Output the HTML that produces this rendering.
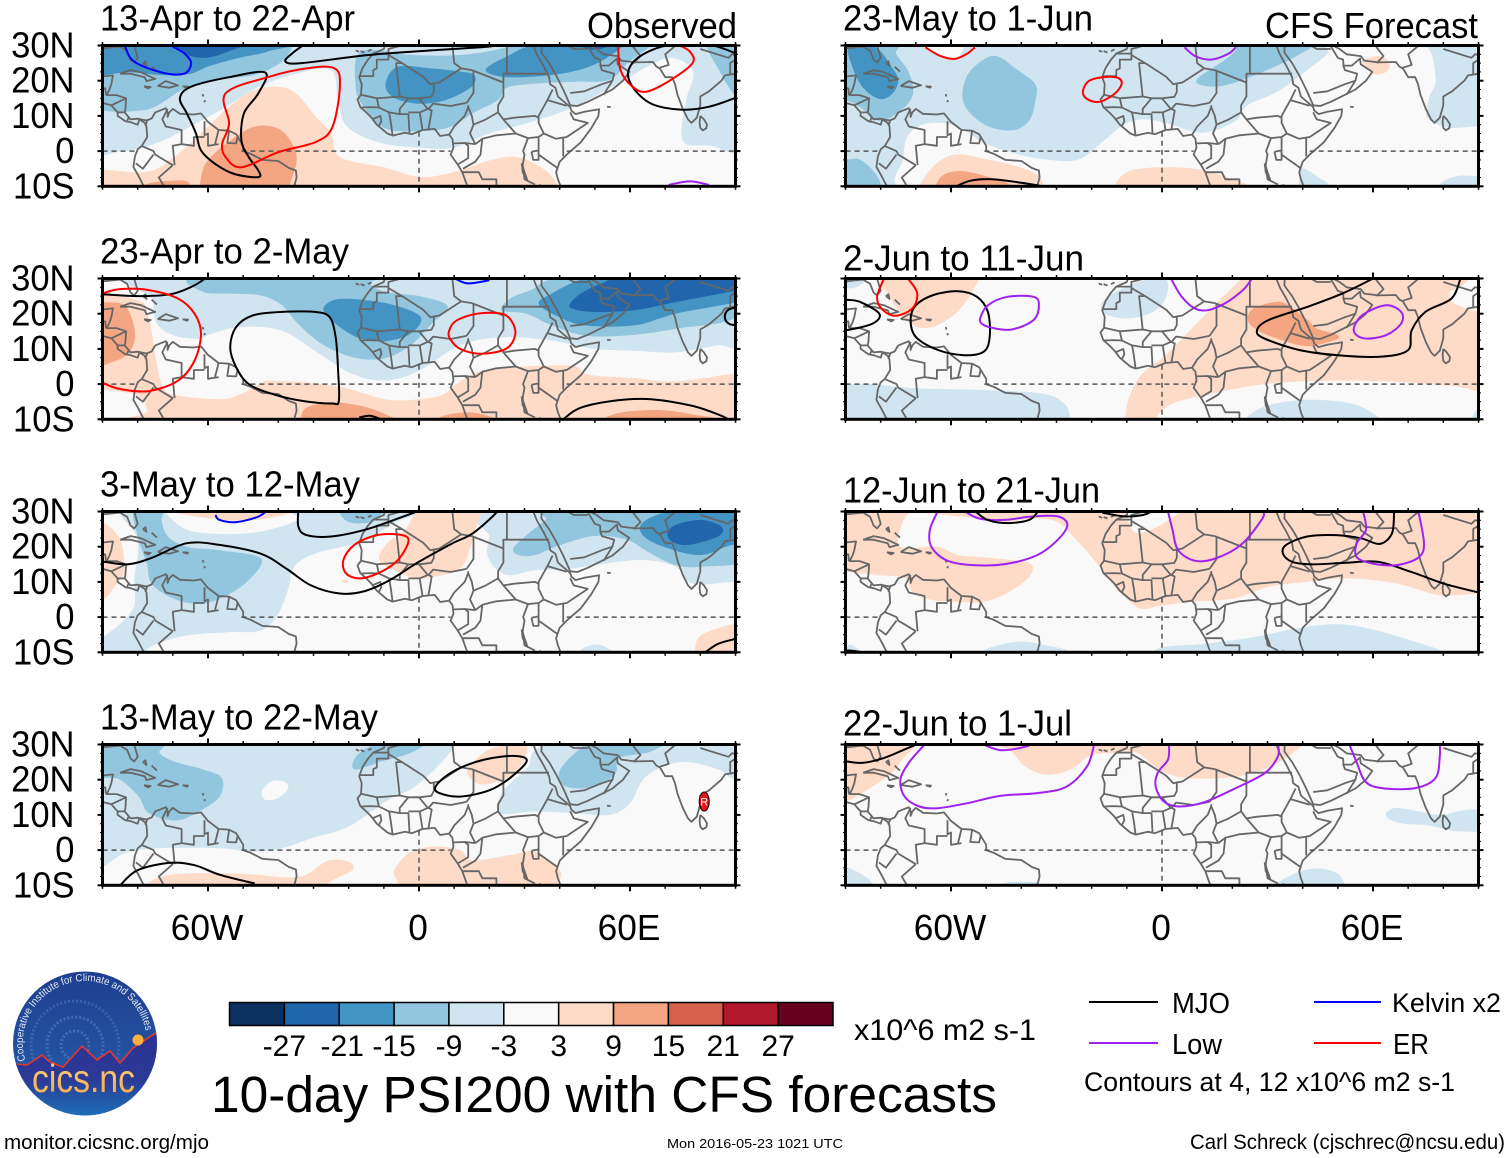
<!DOCTYPE html>
<html lang="en">
<head>
<meta charset="utf-8">
<title>10-day PSI200 with CFS forecasts</title>
<style>
html,body{margin:0;padding:0;background:#fff;width:1510px;height:1158px;overflow:hidden}
svg{display:block}
text{font-family:"Liberation Sans",sans-serif;fill:#000}
</style>
</head>
<body>
<svg id="chart" width="1510" height="1158" viewBox="0 0 1510 1158" xmlns="http://www.w3.org/2000/svg">
  <defs>
    <linearGradient id="logo-sky" x1="0" y1="0" x2="0" y2="1">
      <stop offset="0" stop-color="#1f3f8f"/><stop offset="0.55" stop-color="#23509f"/><stop offset="1" stop-color="#1b78bd"/>
    </linearGradient>
    <linearGradient id="logo-land" x1="0" y1="0" x2="0" y2="1">
      <stop offset="0" stop-color="#2e3192"/><stop offset="0.55" stop-color="#2b3a96"/><stop offset="1" stop-color="#1b75bb"/>
    </linearGradient>
    <linearGradient id="logo-word" x1="0" y1="0" x2="0" y2="1">
      <stop offset="0" stop-color="#fbd27a"/><stop offset="1" stop-color="#f5a64a"/>
    </linearGradient>
    <clipPath id="logo-clip"><circle cx="85" cy="1043.5" r="72"/></clipPath>
  </defs>
  <g id="panels"></g>

  <g id="colorbar"></g>
  <text x="854" y="1040" font-size="30" textLength="182" lengthAdjust="spacingAndGlyphs">x10^6 m2 s-1</text>
  <text x="211" y="1112" font-size="51" textLength="786" lengthAdjust="spacingAndGlyphs">10-day PSI200 with CFS forecasts</text>

  <g>
    <line x1="1089" y1="1002" x2="1158" y2="1002" stroke="#000" stroke-width="2"/>
    <text x="1172" y="1013" font-size="29" textLength="58" lengthAdjust="spacingAndGlyphs">MJO</text>
    <line x1="1314" y1="1002" x2="1381" y2="1002" stroke="#0000ff" stroke-width="2"/>
    <text x="1392" y="1012" font-size="27" textLength="109" lengthAdjust="spacingAndGlyphs">Kelvin x2</text>
    <line x1="1089" y1="1043" x2="1158" y2="1043" stroke="#a020f0" stroke-width="2"/>
    <text x="1172" y="1054" font-size="29" textLength="50" lengthAdjust="spacingAndGlyphs">Low</text>
    <line x1="1314" y1="1043" x2="1381" y2="1043" stroke="#ff0000" stroke-width="2"/>
    <text x="1393" y="1054" font-size="29" textLength="36" lengthAdjust="spacingAndGlyphs">ER</text>
    <text x="1084" y="1091" font-size="27" textLength="371" lengthAdjust="spacingAndGlyphs">Contours at 4, 12 x10^6 m2 s-1</text>
  </g>

  <g>
    <circle cx="85" cy="1043.5" r="72" fill="url(#logo-sky)"/>
    <g clip-path="url(#logo-clip)">
      <circle cx="75" cy="1045" r="14" fill="none" stroke="#5f86c8" stroke-width="3" stroke-dasharray="2 2" opacity="0.55"/>
      <circle cx="75" cy="1045" r="28" fill="none" stroke="#5f86c8" stroke-width="3" stroke-dasharray="2 2" opacity="0.5"/>
      <circle cx="75" cy="1045" r="44" fill="none" stroke="#5f86c8" stroke-width="3" stroke-dasharray="2 2" opacity="0.4"/>
      <path d="M10,1064 L27,1065 L42,1055 L50,1062 L63,1067 L82,1046 L97,1060 L110,1051 L120,1063 L133,1048 L160,1030 L160,1120 L10,1120 Z" fill="url(#logo-land)"/>
      <path d="M17,1064 L27,1065 L42,1055 L50,1062 L63,1067 L82,1046 L97,1060 L110,1051 L120,1063 L133,1048 L157,1032" fill="none" stroke="#e8352e" stroke-width="1.6"/>
      <circle cx="138" cy="1040" r="5.5" fill="#fbb040"/>
    </g>
    <path id="logo-arc" d="M25.4,1060.5 A62,62 0 1 1 146.1,1033.2" fill="none"/>
    <text font-size="10.5" style="fill:#dfe8f6"><textPath href="#logo-arc" textLength="200" lengthAdjust="spacingAndGlyphs">Cooperative Institute for Climate and Satellites</textPath></text>
    <text x="32" y="1092" font-size="39" textLength="103" lengthAdjust="spacingAndGlyphs" style="fill:url(#logo-word)">cics.nc</text>
  </g>

  <text x="4" y="1149" font-size="20" textLength="205" lengthAdjust="spacingAndGlyphs">monitor.cicsnc.org/mjo</text>
  <text x="667" y="1148" font-size="13" textLength="176" lengthAdjust="spacingAndGlyphs">Mon 2016-05-23 1021 UTC</text>
  <text x="1190" y="1149" font-size="21" textLength="315" lengthAdjust="spacingAndGlyphs">Carl Schreck (cjschrec@ncsu.edu)</text>
</svg>

<script>
/* ---------- axis data ---------- */
const lonTicks = [-60, 0, 60];
const lonTickLabels = ['60W', '0', '60E'];
const latTicks = [30, 20, 10, 0, -10];
const latTickLabels = ['30N', '20N', '10N', '0', '10S'];

/* ---------- colour scale ---------- */
const colorLevels = [-30, -24, -18, -12, -6, 0, 6, 12, 18, 24, 30];
const colorValues = ['#0a3060', '#2166ac', '#4393c3', '#92c5de', '#d1e5f0', '#f9f9f9', '#fddbc7', '#f4a582', '#d6604d', '#b2182b', '#67001f'];
const colorbarLabels = ['-27', '-21', '-15', '-9', '-3', '3', '9', '15', '21', '27'];
const seriesColors = { MJO: '#000000', Kelvin: '#0000ff', Low: '#a020f0', ER: '#ff0000' };

/* ---------- panel titles ---------- */
const panelTitles = ['13-Apr to 22-Apr','23-Apr to 2-May','3-May to 12-May','13-May to 22-May','23-May to 1-Jun','2-Jun to 11-Jun','12-Jun to 21-Jun','22-Jun to 1-Jul'];
const panelTitleWidths = [255,249,260,278,250,241,257,229];
const panelTitleOffsets = [15,15,15,15,15,8,9,9];

/* ---------- geography: lon,lat polylines ---------- */
const coastlines = [
 [-90,21.2,-87,21.5,-87.5,19,-88,17.5,-88.8,15.9,-86,15.9,-83.3,15,-83.5,12,-83.7,11,-82,9,-80,9.2,-77.5,8.7,-76,9.3,-75,11,-72,12.2,-71.5,11,-71.5,9.7,-71,11,-70,12,-68,10.6,-64,10.4,-62,10.7,-61,9.5,-60,8.3,-57,6,-54,5.8,-52,4.8,-50,1.5,-50,0,-48,-0.7,-44.5,-2.5,-40,-2.8,-37,-4.8,-35,-5.5,-34.8,-7.5,-35.5,-10],
 [-90,13.7,-87.5,13,-85.7,11,-85.7,10,-83.5,8.5,-82,8.2,-80,7.5,-79.5,9,-78,8,-77.5,7,-77.3,4,-78.8,1.5,-80,0.5,-80.8,-1.5,-81.2,-4.5,-79.8,-7,-78.5,-9.5,-78,-10],
 [-90,29.2,-85,29.7,-83,28.5,-82,26,-81,25.2,-80,26.5,-81,30],
 [-85,22,-82,23,-79,22.4,-75,20.5,-77.5,19.9,-78,21,-82,22,-85,22],
 [-74.3,18.5,-72,19.9,-68.5,18.7,-71,18,-74.3,18.5],
 [-78.2,18.4,-76.3,18.2,-77,17.8,-78.2,18.4],
 [-67.2,18.4,-65.7,18.3,-66,18,-67.2,18.4],
 [-78.5,25,-77.5,24.2,-77.8,25.5,-78.5,25],
 [-76,24,-75,23,-74.5,22.6],
 [-61.5,16.2,-61.3,15.5],
 [-60.9,14.5,-61,13.9],
 [-9.7,30,-10,29,-13,27.7,-14.5,26,-16,23.7,-17,21,-16.3,19,-16.5,16,-17.5,14.7,-16.7,12.5,-15,11,-13.5,9.5,-12,7.5,-9,5,-7.5,4.4,-4,5.2,-2,4.8,1,6,4.5,6.3,6,4.3,8.5,4.7,9.5,3.5,9.8,1,9,-1,11,-3.8,12.3,-6,13.4,-9,13.8,-10],
 [32.5,30,33.5,27.5,35.5,24,37,21,37.3,19,38.8,18,39.5,15.5,43,12.5,43.3,11.5,44.5,10.5,47,11.2,51.2,11.9,51,10,49,6.5,46,2.5,42,-1,40,-3,39,-6,39.5,-8,40.3,-10],
 [34.9,30,34.8,28,37,25,39,21.5,41,17.5,43,13,45,12.8,48,14,52,16,55,17.5,58,20,59.8,22.5,56.5,24.7,56.3,26.3,54,24.3,51.6,24.3,51.5,26,50,26.5,48.2,29.5,47.8,30],
 [48.5,30,50.5,29,52.5,27.5,56.5,27,57.5,25.7,61.5,25.2,66.5,25.3,67.5,24,68.5,23.5,70,21,72,21,72.8,19,73.5,16,75,12,76.5,9,77.5,8,79,9.5,80,13,80,15.5,82.5,17,86,20,87,21.5,90,22],
 [80,10,81,9,81.9,7.6,81.7,6.5,80.7,5.9,80,6.6,79.8,8.2,80,10],
 [53.5,12.6,54.5,12.5],
 [-18,28.6,-17,28.2],[-16.6,28.4,-15.5,28],[-14.5,28.4,-13.5,28.9],
 [32,-0.2,34,0.2,34,-2.5,32.5,-2.5,32,-0.2],
 [29.2,-3.5,30,-6,30.8,-8.2,29.5,-6,29.2,-3.5],
 [34.3,-9.5,34.8,-10]
];
const borders = [
 [-13,27.7,-8.7,27.7,-8.7,29,-5,30],[-8.7,27.7,-8.7,26,-12,26,-12,23.5,-13,23,-13,21.3,-17,21.3],
 [-8.7,27.3,-4.8,25,1.2,21.1,3.2,19,4.2,19.2,4.2,16.8,3.5,15.4,0,15,-3,15,-5.5,15.5,-12,15,-16.5,16],
 [-4.8,25,-6.5,25,-5.5,15.5],[-12,15,-11.4,12.4,-13.7,12.5,-16.7,12.4],
 [-11.4,12.4,-8.5,11,-8,8,-7.5,4.4],[-13.3,9,-11,10,-10.7,8.5,-11.5,7],[-8.5,11,-5.5,10.5,-3,10.5,-2.7,5],
 [-5.5,10.5,-5.5,12,-3,15],[0,15,2.5,12,0.2,11,-3,11],[0.2,11,1,6],[2.7,6.3,3.6,11.5,2.7,12],
 [2.7,12,4,13.5,9,12.8,13.5,13.7],[8.6,4.7,10,7,13,10,14,12.5,14,13],
 [15.5,23,15.5,21,15.5,16.5,13.5,13.7],[4.2,19.2,5.8,19.5,12,23.5,15,23],[12,23.5,10,25,9.5,30],[15,23,24,19.5],
 [25,30,25,22,37,22],[24,19.5,24,22,25,22],[24,19.5,24,15.5,22.5,13,22.5,11,24,9],
 [14,12.5,15,10,15.5,7.5,19,9,22.5,11],[15.5,7.5,14.5,5,16,2],[24,9,27,9.5,33,10,34,9.5],
 [24,9,27.5,5,31,3.7,34,4,35.5,5],[36.5,14.5,34,10,34,8,35.5,5,39,3.5,42,4,48,8,44,9,43,11],
 [36.5,14.5,38,17.5],[36.5,14.5,42,12.9],[41,4,41,-1.5],[34,4,34,-1,39.2,-4.7],
 [31,3.7,29.6,0,30,-1,29.5,-4,30,-8,33,-9.5],[16,2,18,3.5,17.5,-1,16,-3,12.5,-5],
 [9.8,2.2,13,2.3,14,1.5,14,-2,11,-3.8],[12.3,-6,17,-6,18,-8,22,-8,22,-10],[16,2,13,2.3],[18,3.5,22,4.5,27.5,5],
 [34.9,29.5,34.3,31],[39,32,44,29,46.5,29,48,29],[43,16.5,47,17,52,19,55,20,52.5,16],[55,20,55.5,22,52,23,51.5,24.5],
 [61,25,63,27,61,29.5,60.8,30],[68.5,23.7,71,24.5,70,27.5,73,30],[80,29,88,26.5,89,27.5,92,27],[88.5,22,88.5,25,90,26],[48.5,30,47.7,31],
 [-90,17.8,-89.2,17.8,-89,15.9],[-87.5,13,-83.3,15],[-85.7,11,-83.7,11],[-83,8.5,-82.6,9.5],[-77.3,8.7,-77.8,7.2],
 [-71.5,12,-73,9,-72,7,-67.5,6,-67.5,2,-70,1.5,-69.5,-4],[-79,1.5,-75.5,0,-75,-1,-70,-4],[-80.5,-3.5,-78.5,-5,-75.5,-1],
 [-70,-4,-74,-7.5,-72.5,-10],[-67.5,2,-64,1.5,-64,4,-61,4],[-61,8.5,-61,4.5,-60,5,-60,1.5,-57,2],[-57,6,-58,2],[-54,5.8,-54.5,2.3,-52,2.2,-51.5,4.3]
];
const equatorOceanSpans = [[-90,-80],[-50.5,9],[42,90]];
const primeMeridianSpan = [5.5, -10];

/* ---------- shaded anomaly regions: [level, lon,lat,...] ---------- */
const fills1 = [
 [-3,[-95,36,-95,2,-84,0,-74,2.5,-65,7,-55,12.5,-46,18,-35,22,-25,23,-23,14.5,-20.5,7,-11.5,2.5,0,1,10,1,20,5,31,8,44,12.5,58,20,65,24,72,26.5,78,22.5,76,14.5,75,3,82.5,1.6,95,1.6,95,36]],
 [-9,[-95,14,-78.4,11.6,-67.5,17.3,-59.3,20.2,-47,21.6,-39,25.4,-36,29.7,-36,33,-95,33]],
 [-9,[-16.4,28.3,-18,18.3,-15.7,12.6,-9.5,6.4,0.7,5.7,9,6.9,15.7,11,22.5,14.5,25,18,33.4,19.2,44.3,19.7,54,20.2,59.3,25,66,30,66,31.6,30.7,32,24,29.2,11.6,27.3,-2,27.3]],
 [-9,[82.5,31,85.3,23,90.7,15,96,15,96,31]],
 [-15,[-95,22,-82.5,22.4,-73,21.6,-65,22,-59.5,24.2,-51,26.5,-43,28.3,-39,31,-95,33]],
 [-15,[-9.5,19.2,-6,24,3.4,23.5,11.6,22.6,15.7,21.6,15,18.3,7.5,14.5,-0.7,13.5,-7.5,15.4]],
 [-15,[19,23,25,26.9,35,30.7,56.6,30.7,54,26.9,47,23.5,37.5,21.6,25,21]],
 [-21,[-70,31,-66.7,27.6,-60.5,26.5,-53.7,28.5,-49.6,31]],
 [-21,[44.3,31,49.8,28.8,56.6,31]],
 [3,[-96,-5.5,-78.4,-6,-71,-2.7,-62,5,-54,12.6,-47,17.3,-40,18.3,-35,16.4,-29.3,9.7,-25,5,-22.5,-1.7,-10,-4.6,0.7,-7.4,11.6,-5.5,19.8,-2.7,28,-1.7,36,-5.5,39.6,-10.3,39.6,-14,-96,-14]],
 [9,[-62.3,-10,-60.7,-3.6,-55,2,-47,6.9,-40,6.4,-36,2,-34.8,-2.7,-36.8,-10,-37,-14,-62,-14]],
 [9,[-77.8,-9.6,-73,-8.6,-66,-8.6,-66,-12,-78,-12]]
];
const contours1 = [
 ['MJO',0,[-32,30.7,-36,27.8,-38,25.4,-33.4,25,-14.3,27.3,3.4,28.6,19.8,29.7,24,30.5]],
 ['MJO',1,[-43.7,22.3,-54,21,-64.8,18.3,-68,15,-66,10.7,-63.4,5,-62,0.2,-58,-3.6,-52.5,-6.5,-45.7,-7.4,-45.7,-5.5,-48.4,-1.7,-50.5,3,-49.8,10.7,-45.7,16.4]],
 ['ER',1,[-55,16.4,-43,21,-32,23.5,-24,23.5,-22.5,18.3,-24.6,6.9,-29.3,2.6,-40,-0.3,-50.5,-4.6,-55,-1.7,-56,2,-54,7.8]],
 ['MJO',0,[90.7,15.4,82.5,12.6,74.4,11.8,66,13.5,60.7,18.3,59.6,23,63.4,27.3,71.6,30.2,82.5,30.2,90,27.8]],
 ['ER',0,[56.6,30.7,57.3,23,60.7,18.3,64.8,16.9,71.6,20.2,77.8,25,77,28.3,73.7,30.2]],
 ['Kelvin',0,[-83.6,29.7,-81,25.4,-73,22.3,-66.8,22,-64.8,25,-66.8,27.8,-70,29.7]],
 ['Low',0,[71,-9.6,77,-8.6,82.5,-9.6]]
];
const fills2 = [
 [-3,[-75.6,36,-75.6,23.8,-74.4,17,-69.7,13.8,-62.6,12.9,-59,14.3,-50.8,16.2,-39,15.2,-28.4,8.6,-19,2.9,-9.5,1,0,3.8,11.7,11,23.5,13.3,37.7,12.4,49.5,10,61.3,9.5,73,9,85,11,92,12,96,36]],
 [-9,[-62.6,30.5,-61.4,26.2,-53,25.7,-45,25.2,-39,22.4,-34.3,17,-27,11,-17.8,7.4,-9.5,7.4,-2.4,11,3.5,17,8.2,22,1.1,24.8,-9.5,26.2,-14,28.6,-13.6,31]],
 [-9,[23.5,21,30.6,20,37.7,16.7,47,13.8,59,13.8,73,15.7,92,20,96,36,43.6,31,31.8,26.7,25.9,24.3]],
 [-15,[-27,22,-23.7,24,-16.6,24,-7,22.4,0.5,19,-2.4,14.3,-9.5,12.2,-16.6,12.9,-22.5,16.2,-26.6,20]],
 [-15,[34,22.9,37.7,25.7,47,30,61,32,96,32,96,25,73,20,61.3,16.7,47,16.7,38.9,19.5]],
 [-21,[43,22.9,46,25.7,52,28.6,61,31,96,31,96,28,73,23.3,61.3,21,49.5,20.5,43.6,21.4]],
 [3,[-96,24.3,-80,23.8,-76.8,18.6,-75,8,-73,-0.5,-69.7,-3,-56.7,-4.3,-50.8,-2.9,-45,0.2,-41.4,1,-23.7,-0.5,-9.5,-4.3,0,-4.3,7,-2.9,10.6,0,17.6,3.8,26,4.8,43.6,5.2,48,2.7,61.3,1.7,73,0.8,92,3.3,96,3,96,-14,-78,-14,-77.3,-7.7,-80,-3.3,-88.5,-1.7,-96,-1]],
 [9,[-96,24,-90,23.3,-83.8,22.4,-81,16.2,-81.5,10.5,-86,6.7,-96,5.7]],
 [9,[-33.7,-10,-32,-6.7,-24.8,-5.2,-16.6,-6.2,-9.5,-8.6,-7,-11.4,-34,-13]],
 [9,[5.8,-9.5,14,-8,21,-9.5,22.4,-11.4,5.8,-13]],
 [9,[52.5,-10,57.8,-8,68.4,-7.4,77.8,-8.6,83.7,-10.5,52.5,-13]]
];
const contours2 = [
 ['MJO',0,[-96,25.8,-90,25.5,-80,25,-70.8,25.5,-65,27.5,-60.8,30,-59,32]],
 ['MJO',1,[-53.7,10.5,-52,16.2,-47.3,19.5,-39,20.5,-29.6,20.5,-25.4,19,-23.7,13.3,-23,3.8,-22.8,-4.8,-24.8,-5.5,-33,-4.8,-41.4,-2.9,-48.4,0,-52,4.8]],
 ['MJO',0,[41,-10,46,-6.7,56.6,-4.6,66,-4.3,77.8,-6.2,86,-9,88.5,-10.5]],
 ['MJO',0,[-17,-9.5,-14,-9,-10.7,-10]],
 ['MJO',0,[92,22.4,87.8,21,87,18.6,88.5,17,92,16.7]],
 ['ER',0,[-96,24,-90.3,25.7,-85,27,-76.8,26.7,-68.5,24.3,-63.8,20,-62,14.3,-63.8,6.7,-68.5,1,-76.8,-2,-85,-1.4,-90.3,0.5,-96,3]],
 ['ER',1,[8.6,15.2,10.6,18,16.5,20,23.5,20,26.5,17.6,27.3,13.8,24.7,10,17.6,8.6,11.7,10,8.8,12.9]],
 ['Kelvin',0,[10.6,29.8,14,28.6,20,29.5]]
];
const fills3 = [
 [-3,[-85,30.5,-80,22,-81,10.5,-81.5,2,-90,-5.7,-96,-7,-96,-14,-78,-14,-78,-10,-74.4,-7.6,-66,-5.2,-54.4,-4.3,-45,-3.8,-40,1,-37,8.6,-35.5,14.3,-29.6,18,-16.6,21.4,-7.1,26.7,-0.6,30.5,-34.3,30.5,-34.3,27.6,-45,24.3,-56.7,23.6,-66,24.8,-72,29.5,-72.6,31]],
 [-3,[21.2,31,20,22.9,19.4,18,21.8,13.8,26,11.9,33,13.3,43.6,13.8,56.6,15.7,64.8,16.2,73,14.3,77.8,9.5,89.6,10,96,10,96,31]],
 [-9,[-80.9,31,-80,22.9,-77.4,15.2,-76,9.5,-69.7,5.2,-62.6,3.8,-55.5,5.7,-48.4,10.5,-45,16.7,-56.7,19,-66,20,-71.4,22.9,-73.2,27.6,-72.6,31]],
 [-9,[-22.5,29.5,-20,27,-14,26.9,-10.5,29.5,-10.5,31,-22.5,31]],
 [-9,[26.8,19.5,30.6,23.3,36,27.6,38.9,31,96,31,96,17,80,14.3,73,14.8,66,18,59,22,49.5,23,38.9,20,33,17.6,28.3,17.6]],
 [-15,[63,26,66.6,28.6,73,30,89.6,30,96,30,96,18,89.6,20.5,80,17.6,69.5,20,64,22.9]],
 [-21,[70.7,23.8,73,26.2,80,27.6,86,25.7,85,22.9,76.6,20.5,72,21.4]],
 [3,[-68.5,30.5,-63.8,28.6,-50.8,27.4,-41.4,28.4,-35.5,30,-35.5,31]],
 [3,[-90,27,-85,22,-83.8,13.3,-86,9.5,-90,4.8,-96,4,-96,27]],
 [3,[1.1,30.5,-4,24.8,-9.5,20.5,-11.3,16.2,-7,13.3,-1.2,11.2,4,11.4,11.7,13.8,14.7,20,16.5,26.7,16.5,31]],
 [3,[-22,10.3,-20,10.7,-20.7,9.7]],
 [3,[78.4,-10,80.2,-5.2,89.6,-1.9,96,-1.9,96,-14,78.4,-14]],
 [-3,[46,-9.5,50.7,-7.8,54.8,-10,50,-13]]
];
const contours3 = [
 ['MJO',0,[-96,15.8,-89.8,15.7,-82.7,15,-75.6,17,-66,21,-56.7,20.5,-45,18,-37.8,13.8,-30.7,9,-22.5,6.7,-15.4,7.4,-8.3,10.5,0,15.7,9.4,20.9,15.3,23.8,21.8,29.5,22,31]],
 ['MJO',0,[-34.3,30.5,-34.3,25.7,-32,23.3,-25,22.9,-15.4,24.8,-7.1,27.6,-0.6,30]],
 ['MJO',0,[81.4,-10,85,-7.6,90,-6.2]],
 ['ER',1,[-21.5,16.2,-18.4,20.5,-11.9,23.3,-4.8,23.3,-3,21.4,-6,16.2,-10.7,12.9,-16.6,11,-20.7,12.4]],
 ['Kelvin',0,[-57.9,29,-56.7,27.6,-52,27,-46,28.4,-43.5,30]]
];
const fills4 = [
 [-3,[-96,-6,-90,-4.8,-83.8,-1,-74.4,0.5,-56.7,0.5,-47.3,-0.5,-39,0.5,-30.7,3.3,-20,6.7,-9.5,13.8,-1.2,18,5.8,24.3,10.6,30,10.6,31,-96,31]],
 [-3,[39.5,30.5,30.6,23,23.5,16.2,23,10.5,33,11,43.6,10.5,54.2,10,60,13.3,63.7,20,69.5,23.8,76.6,25,85,22.9,89.6,20,96,18,96,31]],
 [0,[-44.7,16.7,-42,19.5,-38.4,19.5,-37.2,17.6,-40,14.8,-43.7,14.3]],
 [-9,[-73.8,30.5,-73.8,27.6,-69.7,25.2,-61.4,22.9,-56.1,20.5,-56.7,15.2,-62.6,11,-69,8.4,-76.8,10.5,-79.7,15.2,-85,20,-89.7,20.5,-96,20,-96,31]],
 [-9,[-18.3,22.9,-17.8,26.7,-11.9,30,1,30.5,-2.4,27.6,-10.7,25.2]],
 [-9,[39.8,22,42.4,25.7,46.5,29.5,48,32,70,32,66,28,57,26.2,56,22,52,19,46,17.5,41,18.5]],
 [-15,[-90,29.5,-86,30.5,-90,32]],
 [3,[14,23.3,20,28.6,27,30,30.6,30,30,25.7,26,21,18.8,18.6,15,20]],
 [3,[-7,-5.7,-2.4,-0.5,4.7,1,11.7,0,15.3,-2.9,26,-1.4,32.9,-0.5,40,-5.7,39.5,-10,39,-14,-5.4,-14,-6,-9.5]],
 [3,[-78,-10,-69.7,-6.9,-50.8,-6.7,-34.3,-7.6,-26,-3,-20,-3.3,-19,-5.7,-26,-9.5,-28,-14,-78,-14]]
];
const contours4 = [
 ['MJO',0,[-85,-10,-80,-5.7,-70.8,-3.6,-63.8,-4.3,-56.7,-7,-46.7,-9.5]],
 ['MJO',1,[4.7,18,8.2,21.4,14,24.3,21,26.2,28,26.7,30.6,25.2,25.9,20.5,20,17,11.7,15.2,5.8,16.2]]
];
const fills5 = [
 [-3,[-96,31,-96,-14,-76.8,-14,-76,-7.6,-73.8,-2.9,-72.6,3.8,-68.5,7.4,-62.6,8,-56.7,6.2,-50.8,2.4,-42.5,-0.5,-33,-2.4,-23.7,-2.4,-16.6,2.9,-10.7,7.6,-4.8,9,2.3,7.6,11.7,5.2,21,8.6,24.1,12.9,33,17,41.3,23,47,27.6,48.3,31,73,31,77.8,21,76,15.2,75.5,9.5,81.4,6.7,89.6,7,96,7,96,31]],
 [0,[-68,30.5,-63.8,27.1,-59,26,-56.7,28.6,-57.3,31]],
 [-3,[39.5,-5.2,44.7,-7.6,47,-10,40,-14]],
 [-3,[79,-9.5,83.7,-7.1,89.6,-7.1,96,-7,96,-14,79,-14]],
 [-9,[-96,31,-76,30.5,-75.6,27.6,-72,22.4,-70.8,16.2,-74.4,11.4,-80.3,8.6,-85,11.9,-89.7,14.3,-96,14]],
 [-9,[-56.7,17,-54.4,22.9,-47.8,27.1,-41.4,23.3,-36,19,-36,14.3,-37.8,8.6,-42.5,5.9,-49.6,7.1,-55.5,11.9]],
 [-9,[10,20.5,17.6,25.7,21,28.6,21.7,31,42.4,31,37.7,26.7,26,21.4,17.6,18.6,11.7,18.6]],
 [-9,[-89.7,-2.4,-86,-2.4,-82,-5.7,-79.7,-10,-79.7,-14,-96,-14,-96,-2.4]],
 [-15,[-89,30,-81.5,29.5,-76.8,23.8,-75,20,-76.8,16.2,-80.3,14.8,-85,18,-88,23.8]],
 [3,[57,25.7,61.3,27,64.3,25.7,64.3,22.9,60.7,21.7,58.3,23.8]],
 [3,[-69,-10,-65,-4.3,-59,-1,-49.6,-2.4,-41.4,-4.3,-35.5,-6.7,-33.7,-10,-34,-14,-69,-14]],
 [3,[-13.6,-10,-9.5,-5.7,0,-4.6,10.6,-5.2,20,-8,24.7,-10,25,-14,-13.6,-14]],
 [9,[-64.4,-10,-62,-6.7,-56.7,-5.7,-48.4,-7.6,-42.5,-10,-42.5,-14,-64.4,-14]]
];
const contours5 = [
 ['MJO',0,[-58.5,-10,-54.4,-8.4,-48.4,-8,-40,-9,-34,-10]],
 ['ER',0,[-67.3,29.5,-63.2,27.1,-59,26.2,-55.5,27.6,-53.2,29.5]],
 ['ER',1,[-22.5,17,-20.7,20,-16.6,21,-12.5,20.8,-11.5,19,-13.6,16.2,-17.8,14,-21.3,14.8]],
 ['Low',0,[6.4,29.5,9.4,27,14,26,18.8,27.6,21,29.5]]
];
const fills6 = [
 [3,[-78.6,30.8,-77.4,24.8,-72.4,17.7,-66.2,16,-58.8,20,-53.8,26.7,-54.5,30.5]],
 [3,[-10.5,-10,-9.3,-3.6,-5.6,3,0.6,7.8,8,15.3,15.5,23,22.3,29.7,22.9,31,83,31,81.8,25.8,83,23,90,20.5,96,20,96,-1,82.3,-0.5,66,0.7,47.6,1,29,0,14.2,-2.7,3,-5.5,-1.9,-10,-2,-14,-10.5,-14]],
 [-3,[-90.3,0,-82.3,0,-70,-1.2,-50,-1.7,-34,-2.7,-27.8,-5.5,-26,-10,-26,-14,-96,-14,-96,0]],
 [-3,[-96,31,-90,27.4,-86,28,-84,31]],
 [-3,[-17.3,22,-15.5,24.8,-9.3,28,-4.3,29.7,1.2,29.7,1.2,24.8,-2.5,20.5,-9.3,18.7,-15.5,19.6]],
 [-3,[23.5,-10,29,-6.4,40.2,-4.5,53.8,-5.5,61.3,-9.3,62,-12,23.5,-12]],
 [-3,[88.5,-8.8,90,-7.4,96,-7,96,-12,88,-12]],
 [9,[24.4,18.2,26,21.5,32.8,23.4,36.5,22,41.5,18.2,44,15.8,50,13.9,49,12.5,41.5,10.8,34,12.5,27.2,15.3]]
];
const contours6 = [
 ['MJO',0,[-96,24.5,-90.3,24,-86,23.4,-80.4,20,-82.3,17.2,-89.7,15.3,-96,14.5]],
 ['MJO',1,[-71.5,18.2,-70,22.4,-65,25.3,-58,26.4,-52.6,24.8,-49.5,20.5,-49,13.4,-50.7,9.2,-56.3,8.2,-63.7,9.7,-70,13.4]],
 ['MJO',0,[60,30,51.4,25.8,41.5,22,30.3,18.2,27,15.3,29,13,39,9.7,50,8.2,62.5,7.8,70,9.7,71,15.3,74.9,20.5,82.3,24.3,84.8,29.7]],
 ['Low',1,[-51.6,19,-49.5,22.4,-44,24.8,-36.5,24.8,-35,22.4,-36.5,18.2,-42.7,15.5,-48.3,16,-51.3,17.2]],
 ['Low',0,[2.7,29.7,5.6,24.8,9.3,21.5,13,21,18,23,23,26.7,25.4,29.7]],
 ['Low',1,[54.5,15.3,57,19.6,63.7,22.4,68,20.5,68,17.2,63.7,13.9,57.5,13]],
 ['ER',0,[-79.2,29.7,-81,24.8,-79.8,21.5,-76,19.4,-71,21.5,-69.6,25.8,-72,29.7]]
];
const fills7 = [
 [3,[-96,31,-96,13,-90,12.9,-80,11.9,-73,11,-70.8,7,-65,4.8,-56.7,4.3,-50.8,4.3,-43.7,7,-37.8,11.4,-37,14.8,-41.4,16,-50.8,17,-58,17.6,-63.8,20,-74.4,20,-73.8,27,-71.5,30,-71.5,31]],
 [3,[-56.7,30.5,-52,28,-45,27,-36.7,28,-29.6,27,-24.8,22.4,-21.3,18.6,-17.8,14.3,-14.2,9.5,-10.7,5.7,-6,2.4,0,3.3,8.2,4.3,20,5.2,30.6,8.6,41.3,10,53,11,67,9.5,79,6.2,89.6,6.7,96,6.7,96,31]],
 [0,[-9.5,26.7,-7,23.8,-1.2,25.7,4.7,29.5,4.7,31,-9.5,31]],
 [-3,[-51.4,-10,-45,-7.6,-39,-7,-33,-8,-26,-10,-26,-14,-51,-14]],
 [-3,[-1.2,-9,11.7,-7.6,26,-5.7,37.7,-3.3,49.5,-2,59,-3.3,71,-6.7,80,-10,80,-14,-1,-14]],
 [-3,[-90,-8,-86,-9.5,-86,-13,-96,-13]]
];
const contours7 = [
 ['Low',0,[-63.8,30,-66,24.8,-65.6,20,-61.4,16.2,-54.4,14.8,-45,15,-35.5,17.6,-29.6,22,-26.9,26.2,-29.6,28.6,-36.7,28.6,-45,27.6,-52,28,-56,30]],
 ['MJO',0,[-53,30,-49.6,27.6,-43.7,26.7,-37.8,27.6,-35.5,29.7]],
 ['MJO',0,[-17,29.7,-10.7,28.6,-5.4,29,-3,30]],
 ['Low',0,[1.7,30,3,24.8,4.6,19,9.4,16,15.3,16.7,22.4,20.5,28.3,27.6,29,30]],
 ['MJO',0,[66,30,65.4,23.8,61.9,20.8,56.6,22.4,49.5,23.3,41.3,22.9,35.3,20.5,34.4,18,37,15.7,42.4,15,51.9,15.4,61.3,15.7,70.7,12.9,80.2,9.5,90,7]],
 ['Low',0,[57.2,30,58,24.8,55.4,21,55.4,17,60,15.2,67,14.8,73,17,74.5,21,72.9,30]],
 ['MJO',0,[-92,-9.4,-89,-9.5,-85,-10,-83,-10.6]]
];
const fills8 = [
 [3,[-96,31,-96,14,-90,13.8,-84,17,-76.8,22,-73.8,25.7,-69.7,30,-69.7,31]],
 [3,[-50.8,30,-43.7,28.6,-39,23.8,-33,21.4,-26,22.9,-20,27,-11.9,27.6,-7,27.6,0,22.4,7,20.5,17.6,20.5,26,22,33,24.8,39.5,29.5,39.5,31,-50.8,31]],
 [-3,[63.7,10.5,66.6,12,73,11,79,10,85,11.2,89.6,11.6,96,11.6,96,5,89.6,5.2,82.5,5.5,75.5,7.1,69.5,7.4,64.8,8.6]],
 [-3,[-90,-4.8,-85,-7.1,-82,-10,-82,-13,-96,-13,-96,-4]],
 [-3,[32.9,-9.5,39,-6.2,44.7,-5.2,50,-6.7,52,-10,52,-13,33,-13]],
 [-3,[-45,-9.5,-40,-9,-35.5,-9.5,-40,-12]]
];
const contours8 = [
 ['MJO',0,[-96,25.8,-90,25.2,-85,24.8,-79,26.2,-73.2,28.6,-69.7,30]],
 ['Low',0,[-67.5,30,-72,24.8,-74.4,20,-73.2,15.2,-69,12.4,-63.8,11.9,-55.5,13.3,-46,15.4,-35.5,16.2,-27.2,18,-21.3,23.8,-19.3,30]],
 ['Low',0,[-50.2,29.7,-46,28.4,-41.4,28.8,-37.8,29.7]],
 ['Low',0,[2,30,1.7,25.7,-1.2,22,-1.8,18,0.5,13.8,4.7,12.4,11.7,13.5,21,17.6,29.4,22,33,26.7,33,30]],
 ['Low',0,[53.3,30,55.4,24.8,57.8,19.5,62.5,17.6,72,17.6,77.8,20.5,79,26.7,79,30]]
];
const panelFills = [fills1, fills2, fills3, fills4, fills5, fills6, fills7, fills8];
const panelContours = [contours1, contours2, contours3, contours4, contours5, contours6, contours7, contours8];
const stormMarkerPanel = 3;
const stormMarkerLon = [81.1];
const stormMarkerLat = [13.8];

/* ---------- layout ---------- */
const NS = 'http://www.w3.org/2000/svg';
const panelTops = [45.5, 278.5, 511.5, 744.5];
const columnLefts = [102.5, 845.5];
const panelW = 633, panelH = 140.8;
const levelColor = function (lv) {
  if (lv === 0) return colorValues[5];
  const idx = colorLevels.findIndex(function (c) { return Math.abs(c - lv) === 3 && (c * lv > 0) && Math.abs(c) > Math.abs(lv); });
  return colorValues[idx];
};
function el(tag, parent) {
  const n = document.createElementNS(NS, tag);
  parent.appendChild(n);
  return n;
}
function smoothPath(p, closed) {
  const n = p.length;
  const at = function (i) { return closed ? p[(i + n) % n] : p[Math.max(0, Math.min(n - 1, i))]; };
  let d = 'M' + p[0][0].toFixed(1) + ',' + p[0][1].toFixed(1);
  const segs = closed ? n : n - 1;
  for (let i = 0; i < segs; i++) {
    const a = at(i - 1), b = at(i), c = at(i + 1), e = at(i + 2);
    d += 'C' + (b[0] + (c[0] - a[0]) / 6).toFixed(1) + ',' + (b[1] + (c[1] - a[1]) / 6).toFixed(1) + ' ' +
      (c[0] - (e[0] - b[0]) / 6).toFixed(1) + ',' + (c[1] - (e[1] - b[1]) / 6).toFixed(1) + ' ' +
      c[0].toFixed(1) + ',' + c[1].toFixed(1);
  }
  return d + (closed ? 'Z' : '');
}
function toPts(flat, xs, ys) {
  const pts = [];
  for (let i = 0; i < flat.length; i += 2) pts.push([xs(flat[i]), ys(flat[i + 1])]);
  return pts;
}

const root = document.getElementById('panels');
panelTitles.forEach(function (title, pi) {
  const col = pi < 4 ? 0 : 1, row = pi % 4;
  const left = columnLefts[col], top = panelTops[row];
  const xs = function (lon) { return left + (lon + 90) * panelW / 180; };
  const ys = function (lat) { return top + (30 - lat) * panelH / 40; };

  const g = el('g', root);
  
  

  const clip = el('clipPath', g);
  clip.setAttribute('id', 'clip-' + pi);
  const cr = el('rect', clip);
  cr.setAttribute('x', left); cr.setAttribute('y', top);
  cr.setAttribute('width', panelW); cr.setAttribute('height', panelH);

  const bg = el('rect', g);
  
  
  bg.setAttribute('x', left); bg.setAttribute('y', top);
  bg.setAttribute('width', panelW); bg.setAttribute('height', panelH);
  bg.setAttribute('fill', colorValues[5]);

  const inner = el('g', g);
  inner.setAttribute('clip-path', 'url(#clip-' + pi + ')');

  panelFills[pi].forEach(function (f) {
    const s = el('path', inner);
    
    
    s.setAttribute('d', smoothPath(toPts(f[1], xs, ys), true));
    s.setAttribute('fill', levelColor(f[0]));
  });

  const geo = el('g', inner);
  
  
  geo.setAttribute('fill', 'none');
  geo.setAttribute('stroke', '#666');
  geo.setAttribute('stroke-width', '1.8');
  geo.setAttribute('stroke-linejoin', 'round');
  coastlines.concat(borders).forEach(function (c) {
    const l = el('polyline', geo);
    l.setAttribute('points', toPts(c, xs, ys).map(function (q) { return q[0].toFixed(1) + ',' + q[1].toFixed(1); }).join(' '));
  });

  const eq = el('g', inner);
  
  
  eq.setAttribute('stroke', '#555');
  eq.setAttribute('stroke-width', '1.5');
  eq.setAttribute('stroke-dasharray', '5 4');
  equatorOceanSpans.forEach(function (sp) {
    const l = el('line', eq);
    l.setAttribute('x1', xs(sp[0])); l.setAttribute('x2', xs(sp[1]));
    l.setAttribute('y1', ys(0)); l.setAttribute('y2', ys(0));
  });
  const pm = el('line', eq);
  pm.setAttribute('x1', xs(0)); pm.setAttribute('x2', xs(0));
  pm.setAttribute('y1', ys(primeMeridianSpan[0])); pm.setAttribute('y2', ys(primeMeridianSpan[1]));

  panelContours[pi].forEach(function (c) {
    const s = el('path', inner);
    
    
    s.setAttribute('d', smoothPath(toPts(c[2], xs, ys), c[1] === 1));
    s.setAttribute('fill', 'none');
    s.setAttribute('stroke', seriesColors[c[0]]);
    s.setAttribute('stroke-width', '2');
  });

  if (pi === stormMarkerPanel) {
    stormMarkerLon.forEach(function (lon, k) {
      const m = el('ellipse', inner);
      
      
      m.setAttribute('cx', xs(lon)); m.setAttribute('cy', ys(stormMarkerLat[k]));
      m.setAttribute('rx', '5'); m.setAttribute('ry', '9.5');
      m.setAttribute('fill', '#e8141c'); m.setAttribute('stroke', '#000'); m.setAttribute('stroke-width', '1');
      const t = el('text', inner);
      
      
      t.setAttribute('x', xs(lon)); t.setAttribute('y', ys(stormMarkerLat[k]) + 4);
      t.setAttribute('text-anchor', 'middle');
      t.setAttribute('font-size', '11');
      t.style.fill = '#fff';
      t.textContent = 'R';
    });
  }

  /* frame and ticks */
  const frame = el('rect', g);
  
  
  frame.setAttribute('x', left); frame.setAttribute('y', top);
  frame.setAttribute('width', panelW); frame.setAttribute('height', panelH);
  frame.setAttribute('fill', 'none');
  frame.setAttribute('stroke', '#000');
  frame.setAttribute('stroke-width', '3');

  const ticks = el('g', g);
  
  
  ticks.setAttribute('stroke', '#000');
  for (let lon = -90; lon <= 90; lon += 10) {
    const major = lonTicks.indexOf(lon) >= 0;
    const len = major ? 6 : 3.5;
    [[top, top - len], [top + panelH, top + panelH + len]].forEach(function (e) {
      const l = el('line', ticks);
      l.setAttribute('x1', xs(lon)); l.setAttribute('x2', xs(lon));
      l.setAttribute('y1', e[0]); l.setAttribute('y2', e[1]);
      l.setAttribute('stroke-width', major ? '2' : '1.5');
    });
  }
  for (let lat = -10; lat <= 30; lat += 2.5) {
    const major = latTicks.indexOf(lat) >= 0;
    const len = major ? 5 : 2.5;
    [[left, left - len], [left + panelW, left + panelW + len]].forEach(function (e) {
      const l = el('line', ticks);
      l.setAttribute('y1', ys(lat)); l.setAttribute('y2', ys(lat));
      l.setAttribute('x1', e[0]); l.setAttribute('x2', e[1]);
      l.setAttribute('stroke-width', major ? '2' : '1');
    });
  }

  /* title */
  const tt = el('text', g);
  
  
  tt.setAttribute('x', left - 2.5);
  tt.setAttribute('y', top - panelTitleOffsets[pi]);
  tt.setAttribute('font-size', '36');
  tt.setAttribute('textLength', panelTitleWidths[pi]);
  tt.setAttribute('lengthAdjust', 'spacingAndGlyphs');
  tt.textContent = title;

  /* latitude labels */
  if (col === 0) {
    latTicks.forEach(function (lat, k) {
      const t = el('text', g);
      
      
      t.setAttribute('transform', 'translate(74.5,' + (ys(lat) + 12) + ') scale(.96,1)');
      t.setAttribute('text-anchor', 'end');
      t.setAttribute('font-size', '36');
      t.textContent = latTickLabels[k];
    });
  }
  /* longitude labels */
  if (row === 3) {
    lonTicks.forEach(function (lon, k) {
      const t = el('text', g);
      
      
      t.setAttribute('transform', 'translate(' + (xs(lon) - 1) + ',940) scale(.98,1)');
      t.setAttribute('text-anchor', 'middle');
      t.setAttribute('font-size', '36');
      t.textContent = lonTickLabels[k];
    });
  }
});

/* column headings */
[['Observed', 587, 150], ['CFS Forecast', 1265, 213]].forEach(function (h) {
  const t = el('text', root);
  
  
  t.setAttribute('x', h[1]);
  t.setAttribute('y', 38);
  t.setAttribute('font-size', '36');
  t.setAttribute('textLength', h[2]);
  t.setAttribute('lengthAdjust', 'spacingAndGlyphs');
  t.textContent = h[0];
});

/* colour bar */
const cb = document.getElementById('colorbar');
const cbX = 229.5, cbW = 603.5, cbY = 1002.5, cbH = 23;
const cbScale = function (i) { return cbX + i * cbW / colorValues.length; };
colorValues.forEach(function (c, i) {
  const r = el('rect', cb);
  
  
  r.setAttribute('x', cbScale(i)); r.setAttribute('y', cbY);
  r.setAttribute('width', cbW / colorValues.length); r.setAttribute('height', cbH);
  r.setAttribute('fill', c);
  r.setAttribute('stroke', '#000');
  r.setAttribute('stroke-width', '1.5');
});
colorbarLabels.forEach(function (s, i) {
  const t = el('text', cb);
  
  
  t.setAttribute('x', cbScale(i + 1) + (i === 1 ? 3 : 0));
  t.setAttribute('y', 1056);
  t.setAttribute('text-anchor', 'middle');
  t.setAttribute('font-size', '30');
  t.textContent = s;
});
</script>
</body>
</html>
